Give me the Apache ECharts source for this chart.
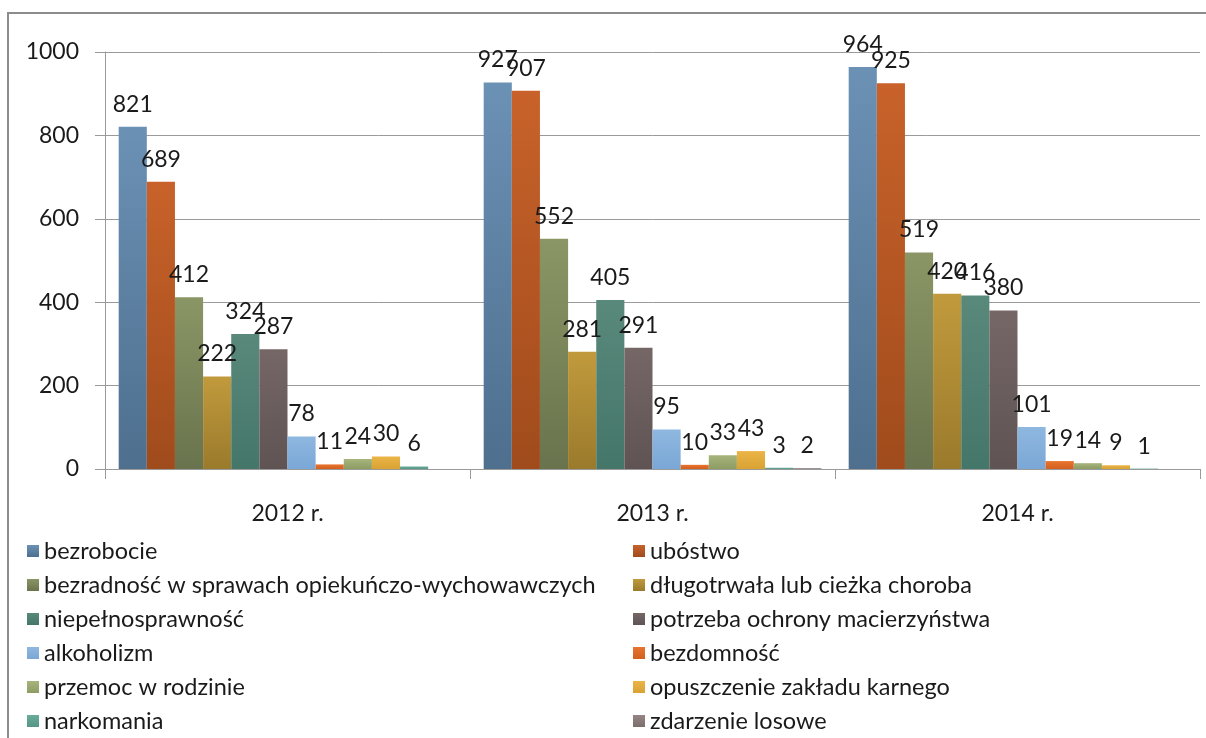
<!DOCTYPE html>
<html>
<head>
<meta charset="utf-8">
<script src="https://cdn.jsdelivr.net/npm/echarts@6/dist/echarts.min.js"></script>
<style>
  html, body { margin: 0; padding: 0; background: #fff; }
  #main { width: 1206px; height: 738px; }
</style>
</head>
<body>
<div id="main"></div>
<script>
// dane
var lata = ['2012 r.', '2013 r.', '2014 r.'];
var nazwy = [
	'bezrobocie', 'ubóstwo',
	'bezradność w sprawach opiekuńczo-wychowawczych', 'długotrwała lub cieżka choroba',
	'niepełnosprawność', 'potrzeba ochrony macierzyństwa',
	'alkoholizm', 'bezdomność',
	'przemoc w rodzinie', 'opuszczenie zakładu karnego',
	'narkomania', 'zdarzenie losowe'
];
var bezrobocie = [821, 927, 964];
var ubostwo = [689, 907, 925];
var bezradnosc = [412, 552, 519];
var choroba = [222, 281, 420];
var niepelnosprawnosc = [324, 405, 416];
var macierzynstwo = [287, 291, 380];
var alkoholizm = [78, 95, 101];
var bezdomnosc = [11, 10, 19];
var przemoc = [24, 33, 14];
var zakladKarny = [30, 43, 9];
var narkomania = [6, 3, 1];
var zdarzenieLosowe = [null, 2, null];
var yTicks = [0, 200, 400, 600, 800, 1000];

var wartosci = [bezrobocie, ubostwo, bezradnosc, choroba, niepelnosprawnosc, macierzynstwo,
	alkoholizm, bezdomnosc, przemoc, zakladKarny, narkomania, zdarzenieLosowe];

// kolory (gora / dol slupka)
var kolory = [
	['#6b91b5', '#4e6f8e'], ['#c8622a', '#a04b1c'], ['#8a9665', '#69734d'],
	['#c19a3c', '#9a7a2c'], ['#58897b', '#45766a'], ['#766767', '#5f5353'],
	['#8fb8e0', '#7aa7d6'], ['#e8742e', '#d35f20'], ['#a7b57c', '#8d9c63'],
	['#ebb447', '#d9a233'], ['#6aab9a', '#549685'], ['#958585', '#7d6e6e']
];

var FONT = 'Lato';
var chart = echarts.init(document.getElementById('main'));

var series = nazwy.map(function (n, i) {
	return {
		name: n,
		type: 'bar',
		data: wartosci[i],
		barGap: 0,
		barCategoryGap: '7.5%',
		itemStyle: {
			color: new echarts.graphic.LinearGradient(0, 0, 0, 1, [
				{ offset: 0, color: kolory[i][0] },
				{ offset: 1, color: kolory[i][1] }
			])
		},
		label: {
			show: true,
			position: 'top',
			distance: 11,
			color: '#1a1a1a',
			fontFamily: FONT,
			fontSize: 23
		}
	};
});

var legendaLewa = nazwy.filter(function (n, i) { return i % 2 === 0; });
var legendaPrawa = nazwy.filter(function (n, i) { return i % 2 === 1; });

function legenda(dane, x) {
	return {
		data: dane,
		orient: 'vertical',
		left: x,
		top: 539,
		padding: 0,
		itemWidth: 12,
		itemHeight: 12,
		itemGap: 10,
		icon: 'rect',
		textStyle: {
			fontFamily: FONT,
			fontSize: 23.5,
			lineHeight: 24,
			color: '#1a1a1a'
		}
	};
}

var option = {
	backgroundColor: '#fff',
	animation: false,
	grid: {
		left: 105,
		right: 6,
		top: 52,
		bottom: 269,
		containLabel: false
	},
	legend: [legenda(legendaLewa, 27), legenda(legendaPrawa, 633)],
	graphic: [{
		type: 'polyline',
		shape: { points: [[8, 740], [8, 13], [1210, 13]] },
		style: { stroke: '#8c8c8c', lineWidth: 2, fill: null },
		silent: true
	}],
	xAxis: {
		type: 'category',
		data: lata,
		axisLine: { lineStyle: { color: '#9a9a9a', width: 1 } },
		axisTick: { show: true, length: 10, lineStyle: { color: '#9a9a9a' } },
		axisLabel: {
			margin: 33,
			fontFamily: FONT,
			fontSize: 23,
			color: '#1a1a1a'
		}
	},
	yAxis: {
		type: 'value',
		min: yTicks[0],
		max: yTicks[yTicks.length - 1],
		interval: 200,
		axisLine: { show: true, lineStyle: { color: '#9a9a9a', width: 1 } },
		axisTick: { show: true, length: 10, lineStyle: { color: '#9a9a9a' } },
		axisLabel: {
			margin: 26,
			fontFamily: FONT,
			fontSize: 23,
			color: '#1a1a1a',
			formatter: function (v) { return String(v); }
		},
		splitLine: { lineStyle: { color: '#9a9a9a', width: 1 } }
	},
	series: series
};

chart.setOption(option);
</script>
</body>
</html>
